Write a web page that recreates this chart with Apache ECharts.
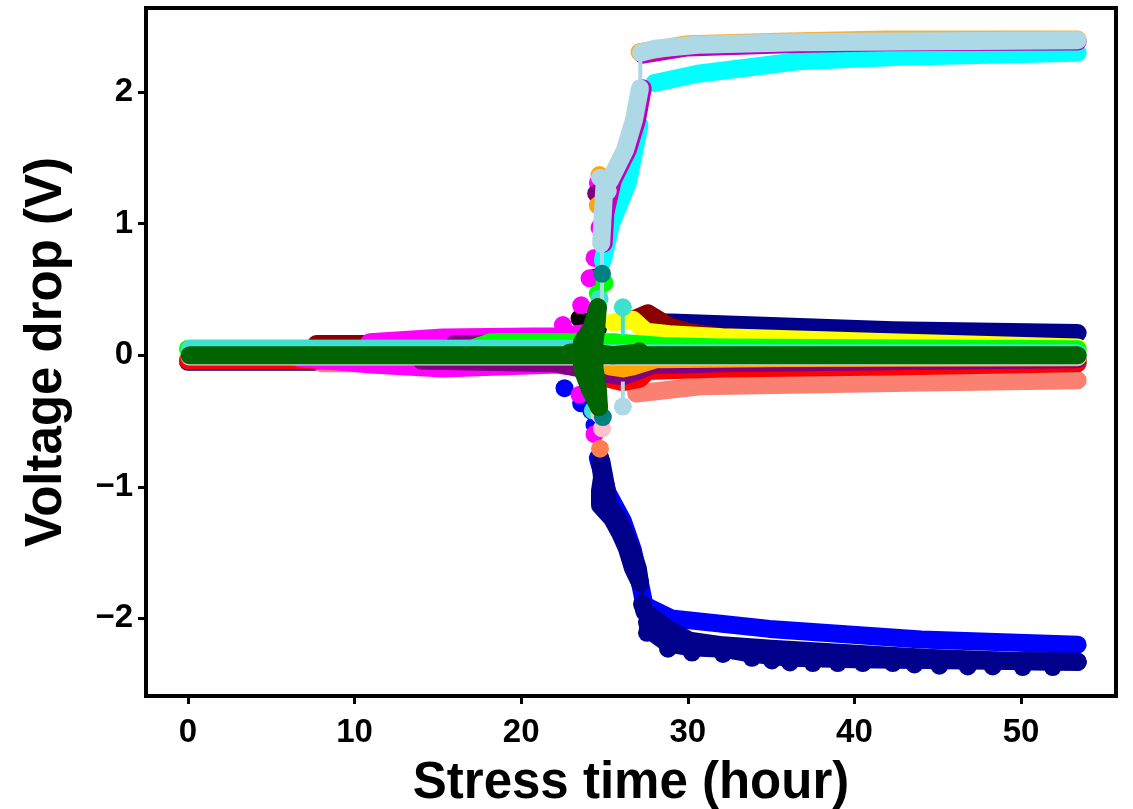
<!DOCTYPE html>
<html><head><meta charset="utf-8">
<style>html,body{margin:0;padding:0;background:#fff}#c{width:1133px;height:809px;filter:blur(0.5px)}</style>
<script src="https://cdn.jsdelivr.net/npm/echarts@6/dist/echarts.min.js"></script>
</head><body><div id="c"></div>
<script>
const xTicks=[0,10,20,30,40,50];
const yTicks=[-2,-1,0,1,2];
const xName='Stress time (hour)';
const yName='Voltage drop (V)';

// upper branch
const cyanT=[24.9,25.4,26.4,26.8,27.1,null,28.0,30.6,36.6,42.7,53.4];
const cyanV=[0.72,1.0,1.31,1.56,1.75,null,2.07,2.14,2.235,2.27,2.30];
const magentaUpT=[24.95,25.05,25.5,26.4,26.95,27.3,null,27.3,30,36,42,53.4];
const magentaUpV=[0.85,1.08,1.33,1.56,1.79,2.03,null,2.285,2.34,2.365,2.38,2.385];
const orangeUpT=[27.1,30,36,42,53.4];
const orangeUpV=[2.305,2.365,2.385,2.40,2.40];
const lightblueT=[24.8,24.9,25.0,25.33,26.23,26.77,27.13,null,27.2,28,30.6,36.6,53.4];
const lightblueV=[0.85,1.08,1.3,1.33,1.56,1.79,2.03,null,2.30,2.33,2.36,2.38,2.395];
// lower branch
const blueT=[24.6,25.2,26.1,26.7,27.0,27.4,29.0,34.9,44.0,53.4];
const blueV=[-0.78,-1.05,-1.26,-1.48,-1.65,-1.9,-2.0,-2.08,-2.16,-2.2];
const navyLowT=[24.73,24.85,24.73,24.73,25.45,25.93,26.35,26.71,27.13];
const navyLowV=[-0.78,-0.93,-1.03,-1.14,-1.24,-1.35,-1.47,-1.62,-1.73];
const navyLow2T=[24.8,25.1,25.2,25.8,26.2,26.6,27.0,27.13];
const navyLow2V=[-0.8,-1.0,-1.14,-1.24,-1.35,-1.47,-1.62,-1.73];
const navyTailT=[27.25,27.55,27.55,28.81,30.25,32.11,33.85,35.05,36.13,37.5,39.0,40.5,42.3,43.6,45.1,46.8,48.3,50.1,51.9,53.4];
const navyTailV=[-1.89,-2.03,-2.11,-2.23,-2.26,-2.27,-2.30,-2.32,-2.335,-2.34,-2.34,-2.34,-2.34,-2.35,-2.36,-2.365,-2.365,-2.37,-2.37,-2.33];
const navyFillT=[27.3,27.4,28.8,30.1,32.1,35,44.2,50.1,53.4];
const navyFillV=[-1.9,-1.95,-2.08,-2.17,-2.205,-2.23,-2.30,-2.325,-2.33];
const navyFill2T=[27.6,28.8,30.2,32.1,33.9,36.1,40,53.4];
const navyFill2V=[-2.08,-2.19,-2.22,-2.23,-2.27,-2.30,-2.31,-2.33];
// bands around zero, right and left of the spike
const navyUpT=[0,7.6,null,27.5,29,42.3,53.4];
const navyUpV=[-0.05,-0.05,null,0.25,0.25,0.19,0.17];
const salmonT=[8,20,null,26.9,30.8,42.3,53.4];
const salmonV=[-0.06,-0.06,null,-0.29,-0.235,-0.21,-0.19];
const maroonT=[7.7,16,null,26.7,27.6,28.9,30.1,32.1,40];
const maroonV=[0.085,0.085,null,0.27,0.32,0.22,0.175,0.137,0.09];
const redT=[0,20,24,25.3,26.1,27.1,27.6,32.1,42.1,53.4];
const redV=[-0.04,-0.04,-0.04,-0.18,-0.205,-0.18,-0.12,-0.10,-0.085,-0.06];
const turquoiseLowT=[0,24,27,53.4];
const turquoiseLowV=[-0.03,-0.03,-0.07,-0.06];
const purpleT=[14,22,25.3,26.1,27,27.8,32.1,42.1,53.4];
const purpleV=[-0.04,-0.06,-0.145,-0.16,-0.12,-0.075,-0.06,-0.045,-0.03];
const purpleHighT=[16,23];
const purpleHighV=[0.085,0.09];
const magentaLowT=[6.7,11,15.3,22.1,24];
const magentaLowV=[-0.02,-0.07,-0.10,-0.07,-0.1];
const magentaHighT=[10.9,15.3,22.1,24];
const magentaHighV=[0.10,0.135,0.145,0.17];
const orangeLowT=[25.3,26.1,26.7,28.1,36,53.4];
const orangeLowV=[-0.085,-0.10,-0.085,-0.03,-0.02,-0.015];
const yellowT=[25.5,26.7,27.5,28.9,32.1,42.1,53.4];
const yellowV=[0.25,0.27,0.18,0.16,0.137,0.10,0.06];
const limeT=[0,17,18.2,25,25.5,28.5,32,53.4];
const limeV=[0.05,0.05,0.10,0.10,0.10,0.07,0.06,0.045];
const turquoiseT=[0.1,24,25,53.4];
const turquoiseV=[0.05,0.05,0.015,0.015];
const greyT=[0.1,53.4];
const greyV=[-0.01,-0.01];
const greenT=[0.1,53.4];
const greenV=[0,0];
const greenSpikeT=[24.6,24.2,23.65,23.65,24.1,24.67];
const greenSpikeV=[0.365,0.2,0.1,-0.1,-0.25,-0.395];
const greenSpikeT2=[24.6,24.5,24.4,24.4,24.6,24.67];
const greenSpikeV2=[0.365,0.2,0.1,-0.1,-0.25,-0.395];
const greenWideT=[22.9,24,25.5,27,27.1];
const greenWideV=[0.02,0.03,0.0,0.02,0.03];

// isolated markers in the spike: time, value
const orangeDotT=[24.7,24.6];const orangeDotV=[1.37,1.14];
const purpleDotT=[24.5];const purpleDotV=[1.23];
const magentaDotT=[24.6,24.7,24.4,24.1,23.6,22.5,24.4,23.5];const magentaDotV=[1.31,0.97,0.74,0.585,0.38,0.23,-0.6,-0.3];
const blackDotT=[24.4,23.5,24.6];const blackDotV=[0.59,0.28,0.2];
const limeDotT=[25.0,24.6];const limeDotV=[0.55,0.47];
const turqDotT=[24.7,26.1,24.3];const turqDotV=[0.43,0.365,-0.42];
const blueDotT=[22.6,23.6,24.4,24.2];const blueDotV=[-0.25,-0.365,-0.53,-0.42];
const pinkDotT=[24.85,24.7];const pinkDotV=[-0.555,-0.45];
const coralDotT=[24.73];const coralDotV=[-0.71];
const tealDotT=[24.85,24.9];const tealDotV=[0.62,-0.47];
const lightblueDotT=[26.1,24.73,25.2];const lightblueDotV=[-0.39,1.35,1.25];
const navyDotT=[24.73];const navyDotV=[-0.78];

// thin connecting lines
const lbStemT=[24.85,24.85,null,27.15,27.15,null,26.1,26.1];
const lbStemV=[0.3,0.9,null,2.03,2.3,null,-0.39,-0.2];
const turqStemT=[26.1,26.1];const turqStemV=[0.365,0.15];
const navyStemT=[27.2,27.2];const navyStemV=[-1.73,-1.9];

const zip=(t,v)=>t.map((x,i)=>x===null?[null,null]:[x,v[i]]);
const series=[];
const add=o=>series.push(Object.assign(o,{z:series.length+3,silent:true,animation:false}));
const band=(n,c,t,v)=>add({name:n,type:'line',data:zip(t,v),showSymbol:false,symbol:'none',connectNulls:false,clip:false,lineStyle:{color:c,width:18,cap:'round',join:'round'}});
const stem=(n,c,t,v)=>add({name:n,type:'line',data:zip(t,v),showSymbol:false,symbol:'none',connectNulls:false,lineStyle:{color:c,width:4}});
const dots=(n,c,t,v)=>add({name:n,type:'scatter',data:zip(t,v),symbol:'circle',symbolSize:18,itemStyle:{color:c,opacity:1}});

band('navy up','#00008b',navyUpT,navyUpV);
band('maroon','#8b0000',maroonT,maroonV);
dots('black dots','#000000',blackDotT,blackDotV);
band('blue','#0000ff',blueT,blueV);
dots('blue dots','#0000ff',blueDotT,blueDotV);
band('navy fill','#00008b',navyFillT,navyFillV);
band('navy fill 2','#00008b',navyFill2T,navyFill2V);
dots('navy tail','#00008b',navyTailT,navyTailV);
band('salmon','#fa8072',salmonT,salmonV);
band('turquoise low','#40e0d0',turquoiseLowT,turquoiseLowV);
band('red','#ff0000',redT,redV);
band('magenta low','#ff00ff',magentaLowT,magentaLowV);
band('magenta high','#ff00ff',magentaHighT,magentaHighV);
band('purple','#800080',purpleT,purpleV);
band('purple high','#800080',purpleHighT,purpleHighV);
band('orange low','#ffa500',orangeLowT,orangeLowV);
dots('magenta dots','#ff00ff',magentaDotT,magentaDotV);
band('cyan','#00ffff',cyanT,cyanV);
band('magenta up','#c000c0',magentaUpT,magentaUpV);
dots('purple dots','#800080',purpleDotT,purpleDotV);
band('orange up','#f5b041',orangeUpT,orangeUpV);
dots('orange dots','#ffa500',orangeDotT,orangeDotV);
band('yellow','#ffff00',yellowT,yellowV);
band('lime','#00ff00',limeT,limeV);
dots('lime dots','#00ff00',limeDotT,limeDotV);
stem('turquoise stem','#40e0d0',turqStemT,turqStemV);
dots('turquoise dots','#40e0d0',turqDotT,turqDotV);
band('turquoise','#40e0d0',turquoiseT,turquoiseV);
dots('pink dots','#ffc0cb',pinkDotT,pinkDotV);
band('navy low','#00008b',navyLowT,navyLowV);
band('navy low 2','#00008b',navyLow2T,navyLow2V);
stem('navy stem','#00008b',navyStemT,navyStemV);
dots('navy dots','#00008b',navyDotT,navyDotV);
dots('coral dots','#ff7f50',coralDotT,coralDotV);
stem('light blue stem','#add8e6',lbStemT,lbStemV);
dots('light blue dots','#add8e6',lightblueDotT,lightblueDotV);
band('light blue','#add8e6',lightblueT,lightblueV);
dots('teal dots','#008080',tealDotT,tealDotV);
band('grey rim','#d3d3d3',greyT,greyV);
band('green','#006400',greenT,greenV);
band('green wide','#006400',greenWideT,greenWideV);
band('green spike','#006400',greenSpikeT,greenSpikeV);
band('green spike 2','#006400',greenSpikeT2,greenSpikeV2);

const labelStyle={fontFamily:'Liberation Sans',fontWeight:'bold',fontSize:33,color:'#000'};
const nameStyle={fontFamily:'Liberation Sans',fontWeight:'bold',fontSize:51,color:'#000'};
const chart=echarts.init(document.getElementById('c'),null,{renderer:'canvas'});
chart.setOption({
  animation:false,backgroundColor:'#fff',
  grid:{left:146,right:17,top:8,bottom:113,show:true,borderWidth:4,borderColor:'#000',backgroundColor:'#fff',z:0,outerBoundsMode:'none'},
  xAxis:{type:'value',min:-2.52,max:55.7,splitLine:{show:false},name:xName,nameLocation:'middle',nameGap:62,nameTextStyle:nameStyle,
    axisLine:{show:true,onZero:false,lineStyle:{color:'#000',width:4}},
    axisTick:{show:true,customValues:xTicks,length:8,lineStyle:{color:'#000',width:3}},
    axisLabel:{show:true,customValues:xTicks,margin:20,hideOverlap:false,...labelStyle}},
  yAxis:{type:'value',min:-2.59,max:2.64,splitLine:{show:false},name:yName,nameLocation:'middle',nameGap:74,nameTextStyle:nameStyle,
    axisLine:{show:true,onZero:false,lineStyle:{color:'#000',width:4}},
    axisTick:{show:true,customValues:yTicks,length:8,lineStyle:{color:'#000',width:3}},
    axisLabel:{show:true,customValues:yTicks,margin:13,hideOverlap:false,formatter:v=>String(v).replace('-','\u2212'),...labelStyle}},
  series
});
</script></body></html>
